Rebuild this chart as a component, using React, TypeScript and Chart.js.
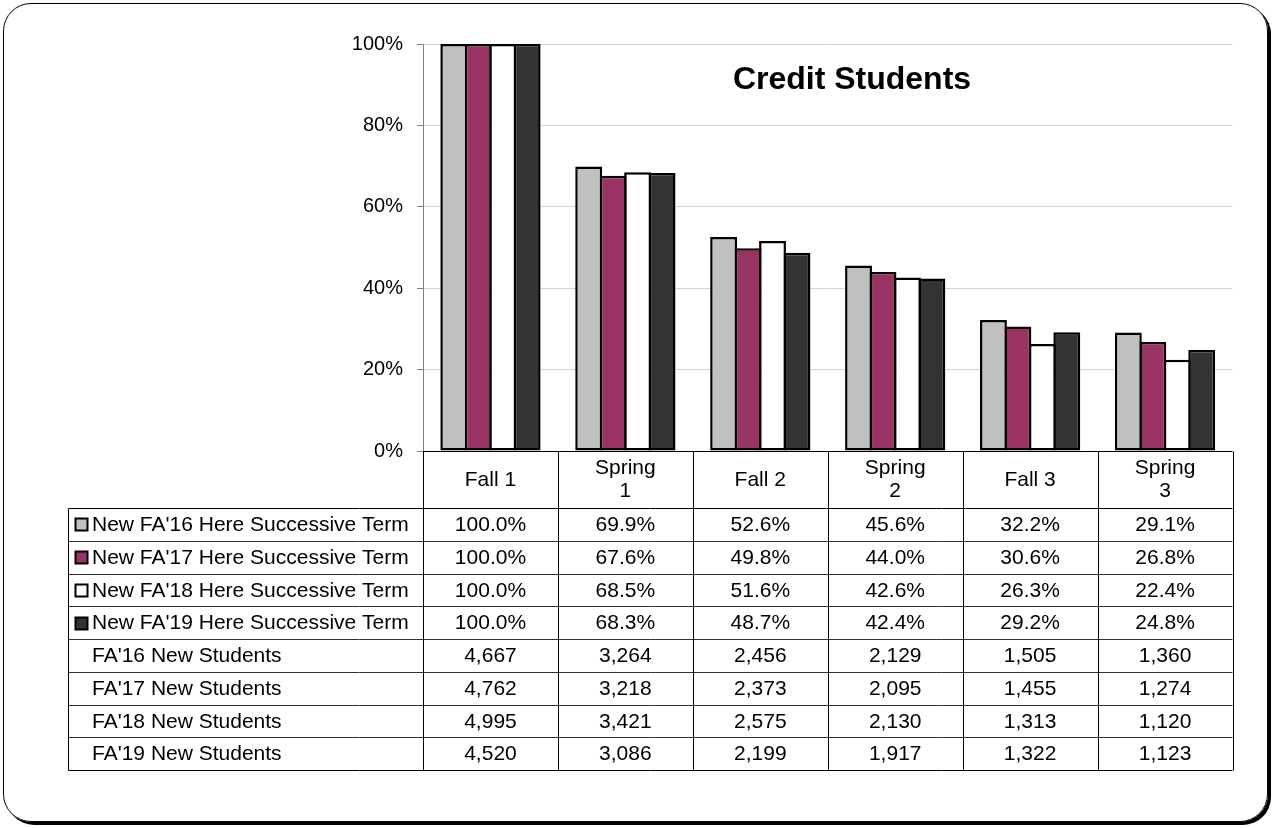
import React, { useEffect, useRef } from "react";
import { Chart, registerables } from "chart.js";

Chart.register(...registerables);

const categories = ["Fall 1", "Spring\n1", "Fall 2", "Spring\n2", "Fall 3", "Spring\n3"];
const seriesNames = [
  "New FA'16 Here Successive Term",
  "New FA'17 Here Successive Term",
  "New FA'18 Here Successive Term",
  "New FA'19 Here Successive Term",
];
const fa16 = [100.0, 69.9, 52.6, 45.6, 32.2, 29.1];
const fa17 = [100.0, 67.6, 49.8, 44.0, 30.6, 26.8];
const fa18 = [100.0, 68.5, 51.6, 42.6, 26.3, 22.4];
const fa19 = [100.0, 68.3, 48.7, 42.4, 29.2, 24.8];
const countNames = ["FA'16 New Students", "FA'17 New Students", "FA'18 New Students", "FA'19 New Students"];
const count16 = [4667, 3264, 2456, 2129, 1505, 1360];
const count17 = [4762, 3218, 2373, 2095, 1455, 1274];
const count18 = [4995, 3421, 2575, 2130, 1313, 1120];
const count19 = [4520, 3086, 2199, 1917, 1322, 1123];
const yTicks = [0, 20, 40, 60, 80, 100];
const title = "Credit Students";

const colors = ["#c0c0c0", "#993366", "#ffffff", "#333333"];
const FONT = '"Liberation Sans", Arial, sans-serif';

const tablePlugin = {
  id: "dataTable",
  afterDraw(chart: any) {
    const ctx = chart.ctx as CanvasRenderingContext2D;
    const ca = chart.chartArea;
    const L = ca.left;
    const R = ca.right;
    const top = ca.bottom;
    const colW = (R - L) / categories.length;
    const headerBottom = top + 57;
    const rowH = 32.75;
    const leftX = 68.5;
    const percents = [fa16, fa17, fa18, fa19];
    const counts = [count16, count17, count18, count19];
    const nRows = percents.length + counts.length;
    const bottom = headerBottom + rowH * nRows;

    ctx.save();
    // title
    ctx.fillStyle = "#000";
    ctx.font = `bold 32px ${FONT}`;
    ctx.textAlign = "center";
    ctx.textBaseline = "alphabetic";
    ctx.fillText(title, 852, 89);

    // header labels
    ctx.font = `21px ${FONT}`;
    ctx.textBaseline = "middle";
    const hc = (top + headerBottom) / 2;
    categories.forEach((c, i) => {
      const cx = L + colW * (i + 0.5);
      const lines = c.split("\n");
      if (lines.length === 1) {
        ctx.fillText(lines[0], cx, hc + 1);
      } else {
        ctx.fillText(lines[0], cx, hc - 11);
        ctx.fillText(lines[1], cx, hc + 12);
      }
    });

    // rows
    for (let r = 0; r < nRows; r++) {
      const ry = headerBottom + rowH * r;
      const cy = ry + rowH / 2 + 1;
      const isPct = r < percents.length;
      let label: string;
      let vals: string[];
      if (isPct) {
        label = seriesNames[r];
        vals = percents[r].map((v) => v.toFixed(1) + "%");
        // legend key
        const kx = 75.5, ky = Math.round(cy - 7) + 0.5;
        ctx.fillStyle = colors[r];
        ctx.fillRect(kx, ky, 12, 12);
        ctx.strokeStyle = "#000";
        ctx.lineWidth = 2;
        ctx.strokeRect(kx, ky, 12, 12);
      } else {
        label = countNames[r - percents.length];
        vals = counts[r - percents.length].map((v) => v.toLocaleString("en-US"));
      }
      ctx.fillStyle = "#000";
      ctx.textAlign = "left";
      ctx.fillText(label, 92, cy);
      ctx.textAlign = "center";
      vals.forEach((v, i) => ctx.fillText(v, L + colW * (i + 0.5), cy));
    }

    // grid lines of the table
    ctx.lineWidth = 1;
    ctx.strokeStyle = "#333";
    for (let r = 1; r < nRows; r++) {
      const y = Math.round(headerBottom + rowH * r) + 0.5;
      ctx.beginPath();
      ctx.moveTo(leftX, y);
      ctx.lineTo(R, y);
      ctx.stroke();
    }
    ctx.strokeStyle = "#000";
    const hb = Math.round(headerBottom) + 0.5;
    const bb = Math.round(bottom) + 0.5;
    const tt = Math.round(top) + 0.5;
    ctx.beginPath();
    ctx.moveTo(L, tt);
    ctx.lineTo(R, tt);
    ctx.moveTo(leftX, hb);
    ctx.lineTo(R, hb);
    ctx.moveTo(leftX, bb);
    ctx.lineTo(R, bb);
    ctx.moveTo(leftX, hb);
    ctx.lineTo(leftX, bb);
    for (let i = 0; i <= categories.length; i++) {
      const x = Math.round(L + colW * i) + 0.5;
      ctx.moveTo(x, tt);
      ctx.lineTo(x, bb);
    }
    ctx.stroke();
    ctx.restore();
  },
};

export default function App() {
  const ref = useRef<HTMLCanvasElement | null>(null);

  useEffect(() => {
    if (!ref.current) return;
    const series = [fa16, fa17, fa18, fa19];
    const chart = new Chart(ref.current, {
      type: "bar",
      data: {
        labels: categories,
        datasets: series.map((d, i) => ({
          label: seriesNames[i],
          data: d,
          backgroundColor: colors[i],
          borderColor: "#000",
          borderWidth: 2.5,
          borderSkipped: false,
          barPercentage: 1.1,
          categoryPercentage: 0.725,
        })),
      },
      options: {
        responsive: false,
        animation: false,
        layout: { padding: { left: 0, top: 44, right: 41.5, bottom: 377 } },
        plugins: { legend: { display: false }, tooltip: { enabled: false }, title: { display: false } },
        scales: {
          x: { display: false },
          y: {
            min: 0,
            max: 100,
            afterFit: (s: any) => {
              s.width = 423;
            },
            afterBuildTicks: (s: any) => {
              s.ticks = yTicks.map((v) => ({ value: v }));
            },
            ticks: {
              callback: (v: any) => v + "%",
              color: "#000",
              font: { family: FONT, size: 20 },
              padding: 14,
            },
            grid: { color: "#d4d4d4", tickColor: "#808080", tickLength: 6, lineWidth: 1 },
            border: { color: "#808080", width: 1 },
          },
        },
      },
      plugins: [tablePlugin],
    });
    return () => chart.destroy();
  }, []);

  return (
    <div style={{ position: "absolute", left: 0, top: 0, width: 1274, height: 828, background: "#fff" }}>
      <div
        style={{
          position: "absolute",
          left: 3,
          top: 3,
          width: 1263,
          height: 817,
          border: "1.5px solid #000",
          borderRadius: 28,
          boxShadow: "3px 3px 0 #000",
        }}
      />
      <canvas
        ref={ref}
        width={1274}
        height={828}
        style={{ position: "absolute", left: 0, top: 0, display: "block" }}
      />
    </div>
  );
}
